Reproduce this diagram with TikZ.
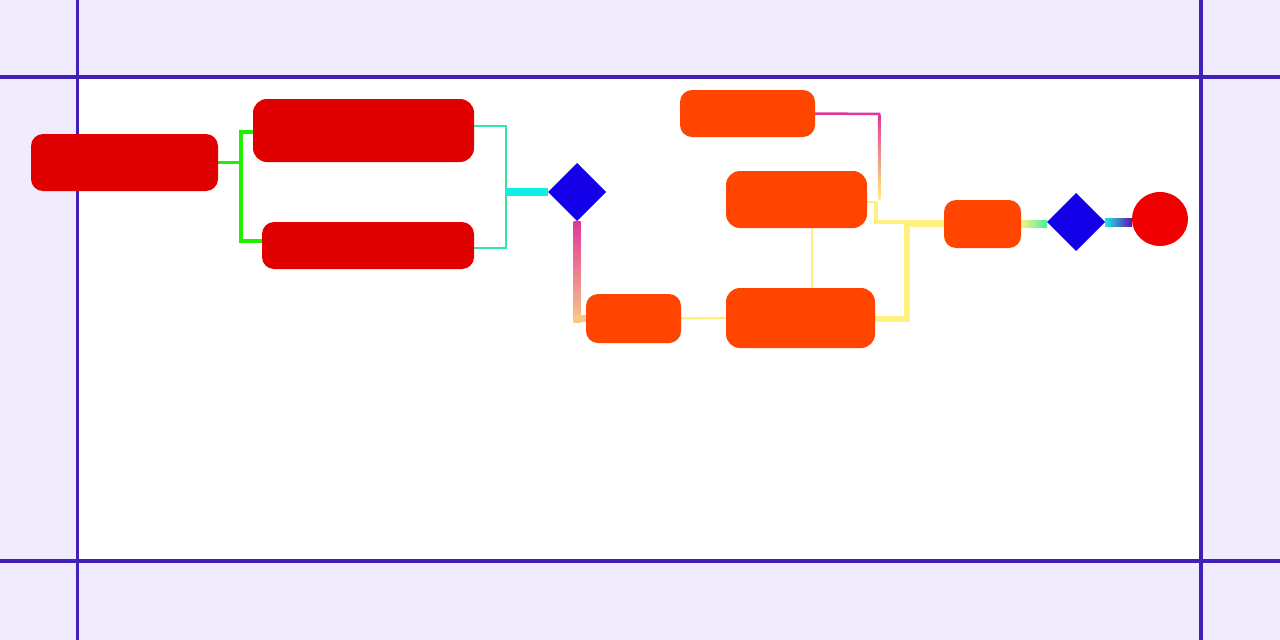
\documentclass[tikz,border=0pt]{standalone}
\usetikzlibrary{shapes.geometric,calc}
\pgfdeclarelayer{bg}
\pgfdeclarelayer{edges}
\pgfsetlayers{bg,edges,main}
\definecolor{lav}{HTML}{F0ECFE}
\definecolor{framec}{HTML}{4220B8}
\definecolor{boxred}{HTML}{E00000}
\definecolor{boxor}{HTML}{FF4500}
\definecolor{diab}{HTML}{1400E8}
\definecolor{circred}{HTML}{F00000}
\definecolor{gre}{HTML}{22EE00}
\definecolor{teal1}{HTML}{30E8A0}
\definecolor{cyan1}{HTML}{10F0E0}
\definecolor{pinkc}{HTML}{E0389A}
\definecolor{peach}{HTML}{F8C888}
\definecolor{yel}{HTML}{FFF080}
\definecolor{grn2}{HTML}{40F0A0}
\definecolor{purp}{HTML}{6010B0}
\definecolor{cyan2}{HTML}{20E8E0}
\begin{document}
\begin{tikzpicture}[x=1pt,y=-1pt,
  box/.style={rounded corners=12pt, inner sep=0pt, outer sep=0pt, draw=none},
  redbox/.style={box, fill=boxred},
  orbox/.style={box, fill=boxor},
  dia/.style={diamond, aspect=1, fill=diab, inner sep=0pt, outer sep=0pt, minimum width=58pt, minimum height=58pt},
  endc/.style={ellipse, fill=circred, inner sep=0pt, outer sep=0pt, minimum width=56pt, minimum height=54pt},
  gline/.style={draw=gre, line width=3.5pt},
  tline/.style={draw=teal1, line width=2.5pt},
  cline/.style={draw=cyan1, line width=8pt},
  yline/.style={draw=yel, line width=2.5pt},
  ythick/.style={draw=yel, line width=6pt},
  frameline/.style={draw=framec}]
\useasboundingbox (0,0) rectangle (1280,640);
\begin{pgfonlayer}{bg}
\fill[lav] (0,0) rectangle (1280,640);
\fill[white] (77,77) rectangle (1201,561);
\draw[frameline, line width=3.5pt] (0,77) -- (1280,77);
\draw[frameline, line width=3.5pt] (0,561) -- (1280,561);
\draw[frameline, line width=3pt] (77,0) -- (77,640);
\draw[frameline, line width=4pt] (1201,0) -- (1201,640);
\end{pgfonlayer}

\node[redbox, minimum width=187pt, minimum height=57pt] (A) at (124.5,162.5) {};
\node[redbox, rounded corners=14pt, minimum width=221pt, minimum height=63pt] (B) at (363.5,130.5) {};
\node[redbox, minimum width=212pt, minimum height=47pt] (C) at (368,245.5) {};
\node[dia] (D) at (577,192) {};
\node[orbox, minimum width=95pt, minimum height=49pt] (E) at (633.5,318.5) {};
\node[orbox, minimum width=135pt, minimum height=47pt] (F) at (747.5,113.5) {};
\node[orbox, rounded corners=14pt, minimum width=141pt, minimum height=57pt] (G) at (796.5,199.5) {};
\node[orbox, rounded corners=14pt, minimum width=149pt, minimum height=60pt] (H) at (800.5,318) {};
\node[orbox, minimum width=77pt, minimum height=48pt] (I) at (982.5,224) {};
\node[dia] (J) at (1076,222) {};
\node[endc] (K) at (1160,219) {};

\coordinate (m1) at (506,192);
\coordinate (m3) at (879,114);
\coordinate (m4) at (876,222);
\coordinate (m5) at (907,319);

\begin{pgfonlayer}{edges}
% A to B, C
\draw[gline] (A.east) -- ++(23,0) coordinate (ga);
\draw[gline] ([yshift=-1.5pt]B.west) -| (ga) |- ([yshift=4.5pt]C.west);
% B, C to D
\draw[tline] ([yshift=4.5pt]B.east) -| (m1) |- ([yshift=-2.5pt]C.east);
\draw[cline] (m1) -- (D.west);
% D to E
\shade[top color=pinkc, bottom color=peach] ([xshift=-3.5pt]D.south) rectangle ([xshift=3.5pt,yshift=-4pt]D.south |- E.west);
\draw[draw=peach, line width=7pt] ([xshift=-3.5pt]D.south |- E.west) -- (E.west);
% E to H
\draw[yline] (E.east) -- (H.west);
% G to H
\draw[yline] ([xshift=15.5pt]G.south) -- ([xshift=15.5pt]G.south |- H.north);
% F to I
\draw[draw=pinkc, line width=2.5pt] (F.east) -- ([xshift=1.25pt]m3);
\shade[top color=pinkc, bottom color=yel] ([xshift=-1.25pt]m3) rectangle ([xshift=1.25pt]m3 |- G.east);
\draw[yline] ([yshift=-2.5pt]G.east) -- ([yshift=-2.5pt]G.east -| m4);
\draw[draw=yel, line width=4.5pt] ([yshift=-2pt]G.east -| m4) -- (m4) -- (m4 -| I.west);
% H to I
\draw[ythick] (H.east |- m5) -- (m5) |- (I.west);
% I to J
\shade[left color=yel, middle color=yel, right color=grn2] ([yshift=3.5pt]I.east) rectangle ([yshift=-3.5pt]I.east -| J.west);
% J to K
\shade[left color=cyan2, right color=purp] ([yshift=4pt]J.east) rectangle ([yshift=-4pt]J.east -| K.west);
\end{pgfonlayer}
\end{tikzpicture}
\end{document}
